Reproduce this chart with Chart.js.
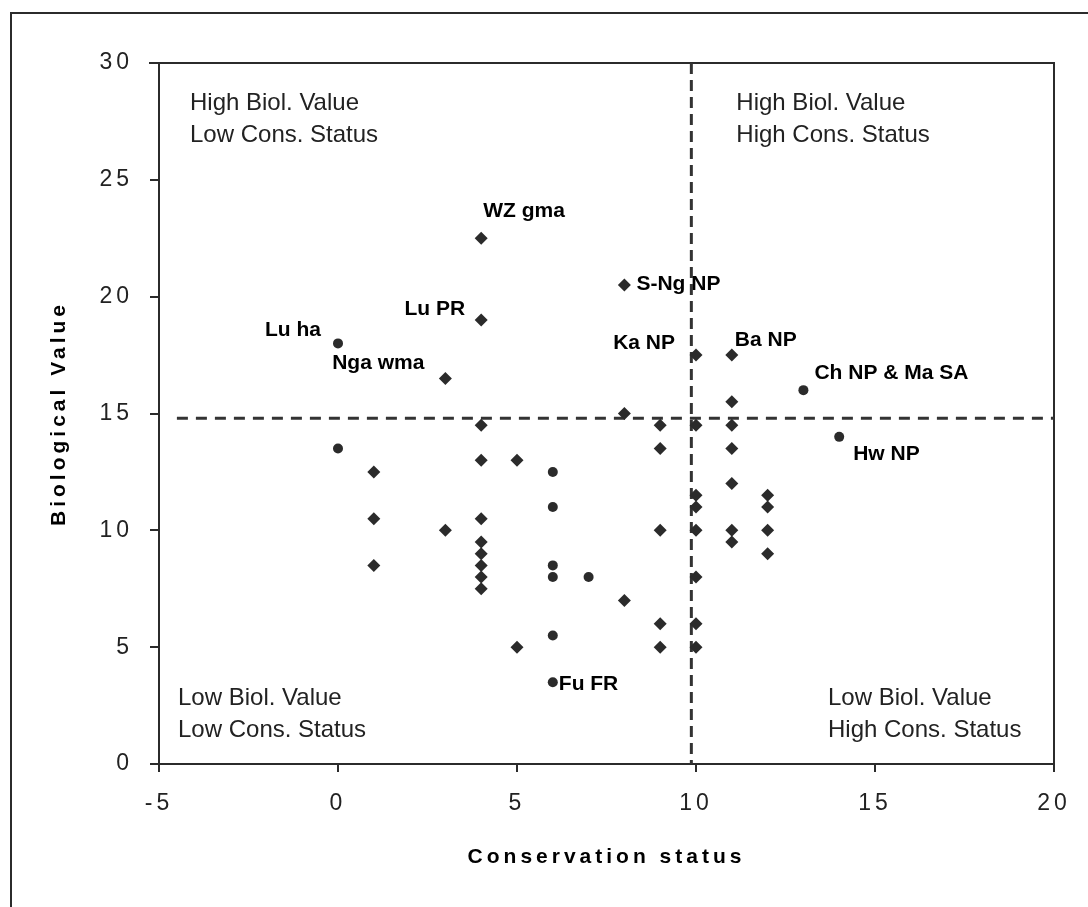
<!DOCTYPE html>
<html>
<head>
<meta charset="utf-8">
<script src="https://cdn.jsdelivr.net/npm/chart.js@4"></script>
<style>
  html, body { margin: 0; padding: 0; background: #fff; }
  #wrap { width: 1088px; height: 907px; }
</style>
</head>
<body>
<div id="wrap"><canvas id="myChart"></canvas></div>
<script>
// sites drawn as round markers
const consStatusCircle = [0, 0, 6, 6, 6, 6, 7, 6, 6, 13, 14];
const biolValueCircle = [18, 13.5, 12.5, 11, 8.5, 8, 8, 5.5, 3.5, 16, 14];

// sites drawn as diamond markers
const consStatusDiamond = [1, 1, 1, 3, 3, 4, 4, 4, 4, 4, 4, 4, 4, 4, 4, 5, 5, 8, 8, 8,
  9, 9, 9, 9, 9, 10, 10, 10, 10, 10, 10, 10, 10, 11, 11, 11, 11, 11, 11, 11, 12, 12, 12, 12];
const biolValueDiamond = [12.5, 10.5, 8.5, 16.5, 10, 22.5, 19, 14.5, 13, 10.5, 9.5, 9, 8.5, 8, 7.5, 13, 5, 20.5, 15, 7,
  14.5, 13.5, 10, 6, 5, 17.5, 14.5, 11.5, 11, 10, 8, 6, 5, 17.5, 15.5, 14.5, 13.5, 12, 10, 9.5, 11.5, 11, 10, 9];

// named sites
const siteNames = ["WZ gma", "S-Ng NP", "Lu PR", "Lu ha", "Nga wma", "Ka NP", "Ba NP", "Ch NP & Ma SA", "Hw NP", "Fu FR"];
const siteCons = [4, 8, 4, 0, 3, 10, 11, 13, 14, 6];
const siteBiol = [22.5, 20.5, 19, 18, 16.5, 17.5, 17.5, 16, 14, 3.5];

// dividing lines (dashed)
const consThreshold = 9.87;
const biolThreshold = 14.8;

const quadrantText = [
  ["High Biol. Value", "Low Cons. Status"],
  ["High Biol. Value", "High Cons. Status"],
  ["Low Biol. Value", "Low Cons. Status"],
  ["Low Biol. Value", "High Cons. Status"],
];

// label offsets from the point: dx, dy, align
const labelPos = {
  "WZ gma": [2, -27, "left"],
  "S-Ng NP": [12, -1, "left"],
  "Lu PR": [-16, -11, "right"],
  "Lu ha": [-17, -13, "right"],
  "Nga wma": [-21, -15, "right"],
  "Ka NP": [-21, -12, "right"],
  "Ba NP": [3, -15, "left"],
  "Ch NP & Ma SA": [11, -17, "left"],
  "Hw NP": [14, 17, "left"],
  "Fu FR": [6, 2, "left"],
};

const ink = "#2b2b2b";

const annotate = {
  id: "annotate",
  beforeDraw(chart) {
    chart.ctx.letterSpacing = "4px"; // spaced-out axis text
  },
  beforeDatasetsDraw(chart) {
    const { ctx, chartArea: a } = chart;
    ctx.letterSpacing = "0px";
    ctx.save();
    ctx.strokeStyle = ink;
    ctx.lineWidth = 2;
    // outer frame
    ctx.beginPath();
    ctx.moveTo(11, chart.height + 2);
    ctx.lineTo(11, 13);
    ctx.lineTo(chart.width + 2, 13);
    ctx.stroke();
    // plot area top / right
    ctx.beginPath();
    ctx.moveTo(a.left - 10, a.top);
    ctx.lineTo(a.right, a.top);
    ctx.lineTo(a.right, a.bottom);
    ctx.stroke();
    ctx.restore();
  },
  afterDatasetsDraw(chart) {
    const { ctx, chartArea: a } = chart;
    const xs = chart.scales.x, ys = chart.scales.y;
    ctx.save();
    ctx.letterSpacing = "0px";
    ctx.fillStyle = "#000";
    ctx.textBaseline = "middle";
    ctx.font = "bold 21px 'Liberation Sans', Arial, sans-serif";
    siteNames.forEach((name, i) => {
      const p = labelPos[name];
      ctx.textAlign = p[2];
      ctx.fillText(name, xs.getPixelForValue(siteCons[i]) + p[0], ys.getPixelForValue(siteBiol[i]) + p[1]);
    });
    // quadrant captions
    ctx.font = "24px 'Liberation Sans', Arial, sans-serif";
    ctx.fillStyle = "#222";
    ctx.textAlign = "left";
    const vx = xs.getPixelForValue(consThreshold);
    const spots = [
      [a.left + 31, a.top + 40],
      [vx + 45, a.top + 40],
      [a.left + 19, a.bottom - 66],
      [a.right - 226, a.bottom - 66],
    ];
    quadrantText.forEach((lines, i) => {
      lines.forEach((t, j) => ctx.fillText(t, spots[i][0], spots[i][1] + j * 32));
    });
    ctx.restore();
  },
};

const toPoints = (xs, ys) => xs.map((x, i) => ({ x: x, y: ys[i] }));

var ctx = document.getElementById("myChart");
var myChart = new Chart(ctx, {
  type: "scatter",
  data: {
    datasets: [
      {
        label: "diamond",
        data: toPoints(consStatusDiamond, biolValueDiamond),
        pointStyle: "rectRot",
        pointRadius: 6.5,
        backgroundColor: ink,
        borderColor: ink,
        borderWidth: 0,
      },
      {
        label: "circle",
        data: toPoints(consStatusCircle, biolValueCircle),
        pointStyle: "circle",
        pointRadius: 5,
        backgroundColor: ink,
        borderColor: ink,
        borderWidth: 0,
      },
      {
        label: "biol threshold",
        data: [{ x: -4.5, y: biolThreshold }, { x: 20, y: biolThreshold }],
        showLine: true,
        pointRadius: 0,
        borderColor: "#333",
        borderWidth: 3,
        borderDash: [11, 8],
      },
      {
        label: "cons threshold",
        data: [{ x: consThreshold, y: 30 }, { x: consThreshold, y: -0.3 }],
        showLine: true,
        pointRadius: 0,
        borderColor: "#333",
        borderWidth: 3,
        borderDash: [11, 6],
      },
    ],
  },
  plugins: [annotate],
  options: {
    responsive: true,
    maintainAspectRatio: false,
    animation: false,
    layout: { padding: { top: 63, right: 34, left: 0, bottom: 0 } },
    plugins: {
      legend: { display: false },
      tooltip: { enabled: false },
    },
    scales: {
      x: {
        type: "linear",
        min: -5,
        max: 20,
        afterFit: (s) => { s.height = 143; },
        border: { display: true, color: ink, width: 2 },
        grid: { drawOnChartArea: false, drawTicks: true, tickLength: 8, color: ink, lineWidth: 2 },
        ticks: {
          stepSize: 5,
          padding: 18,
          color: "#222",
          font: { family: "'Liberation Sans', Arial, sans-serif", size: 23 },
        },
        title: {
          display: true,
          text: "Conservation status",
          color: "#000",
          padding: { top: 0, bottom: 37 },
          font: { family: "'Liberation Sans', Arial, sans-serif", size: 21, weight: "bold" },
        },
      },
      y: {
        type: "linear",
        min: 0,
        max: 30,
        afterFit: (s) => { s.width = 159; },
        border: { display: true, color: ink, width: 2 },
        grid: { drawOnChartArea: false, drawTicks: true, tickLength: 9, color: ink, lineWidth: 2 },
        ticks: {
          stepSize: 5,
          padding: 17,
          color: "#222",
          font: { family: "'Liberation Sans', Arial, sans-serif", size: 23 },
        },
        title: {
          display: true,
          text: "Biological Value",
          color: "#000",
          padding: { top: 47, bottom: 0 },
          font: { family: "'Liberation Sans', Arial, sans-serif", size: 21, weight: "bold" },
        },
      },
    },
  },
});
</script>
</body>
</html>
